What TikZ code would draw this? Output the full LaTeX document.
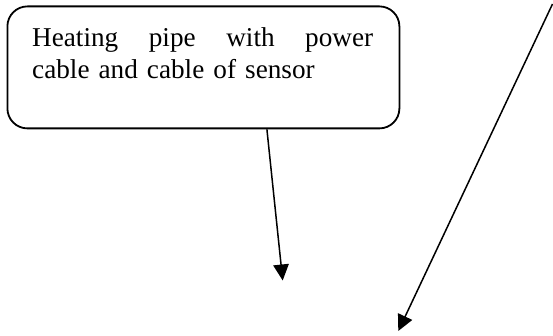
\documentclass[tikz,border=0pt]{standalone}
\usepackage{fontspec}
\setmainfont{Liberation Serif}
\usetikzlibrary{arrows.meta}
\begin{document}
\begin{tikzpicture}[x=1pt,y=-1pt,
  callout/.style={draw=black, line width=1.8pt, rounded corners=20pt, inner sep=0pt},
  labeltext/.style={inner sep=0pt, text width=341pt, align=left, font=\fontsize{27.2}{31.7}\selectfont},
  pointer/.style={line width=1.5pt, -{Triangle[length=16pt,width=15.5pt]}}]
\useasboundingbox (0,0) rectangle (553,336);
\node[callout, minimum width=392pt, minimum height=122pt, anchor=north west] (box) at (6.5,5.5) {};
\node[labeltext, anchor=base west] (label) at (32,47) {\makebox[341pt][l]{Heating\hfill pipe\hfill with\hfill power}\\cable and cable of sensor};
\coordinate (t1) at (282.7,280.5);
\coordinate (s2) at (552.5,4);
\coordinate (t2) at (398.3,331);
\draw[pointer] ([xshift=63.5pt]box.south) -- (t1);
\draw[pointer] (s2) -- (t2);
\end{tikzpicture}
\end{document}
